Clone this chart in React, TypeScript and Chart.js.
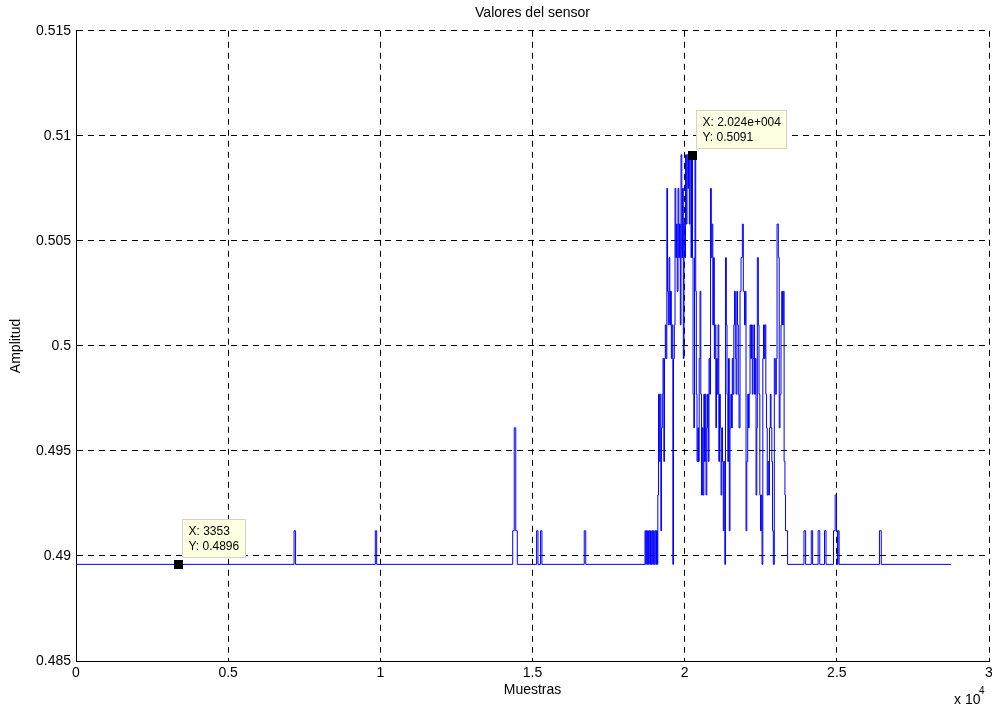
import React, { useEffect, useRef } from 'react';
import { Chart, registerables } from 'chart.js';

Chart.register(...registerables);

const FONT = '"Liberation Sans", Arial, Helvetica, sans-serif';

// Axis ticks (samples on x, amplitude on y)
const xTickValues = [0, 5000, 10000, 15000, 20000, 25000, 30000];
const yTickValues = [0.485, 0.49, 0.495, 0.5, 0.505, 0.51, 0.515];

// Sensor trace as [sample, amplitude] runs: each value holds until the next sample index.
const quietSamples: [number, number][] = [
  [0, 0.4896],
  [7165, 0.4912], [7215, 0.4896],
  [9835, 0.4912], [9880, 0.4896],
  [14350, 0.4912], [14400, 0.4961], [14450, 0.4912], [14500, 0.4896],
  [15135, 0.4912], [15180, 0.4896], [15265, 0.4912], [15310, 0.4896],
  [16700, 0.4912], [16750, 0.4896],
];

const onsetSamples: [number, number][] = [
  [18697, 0.4912], [18720, 0.4896], [18740, 0.4912], [18763, 0.4896],
  [18783, 0.4912], [18809, 0.4896], [18829, 0.4912], [18855, 0.4896],
  [18878, 0.4912], [18901, 0.4896], [18927, 0.4912], [18950, 0.4896],
  [18973, 0.4912], [19000, 0.4896], [19026, 0.4912], [19052, 0.4896],
  [19075, 0.4912], [19102, 0.4896],
];

const burstSamples: [number, number][] = [
  [19118, 0.4929], [19141, 0.4977], [19167, 0.4945], [19190, 0.4977],
  [19217, 0.4912], [19240, 0.4961], [19266, 0.4977], [19289, 0.4994],
  [19315, 0.4945], [19338, 0.4994], [19364, 0.5010], [19387, 0.4994],
  [19414, 0.5075], [19437, 0.5026], [19463, 0.5010], [19486, 0.5042],
  [19512, 0.5010], [19535, 0.5026], [19562, 0.4994], [19585, 0.5010],
  [19611, 0.4896], [19634, 0.4994], [19660, 0.5010], [19683, 0.5075],
  [19709, 0.5042], [19732, 0.5058], [19755, 0.5026], [19782, 0.5075],
  [19808, 0.5042], [19831, 0.5058], [19857, 0.5010], [19880, 0.5091],
  [19907, 0.5042], [19930, 0.5075], [19956, 0.4994], [19979, 0.5058],
  [20005, 0.5042], [20028, 0.5091], [20054, 0.5058], [20077, 0.5091],
  [20104, 0.5075], [20127, 0.5091], [20153, 0.5058], [20176, 0.5091],
  [20209, 0.5042], [20225, 0.5091], [20258, 0.5042], [20275, 0.4977],
  [20301, 0.4961], [20324, 0.5042], [20340, 0.5091], [20363, 0.5026],
  [20383, 0.4977], [20406, 0.4945], [20432, 0.4961], [20455, 0.4945],
  [20478, 0.4994], [20505, 0.5026], [20531, 0.4977], [20554, 0.4929],
  [20580, 0.4961], [20603, 0.4929], [20630, 0.4977], [20653, 0.4945],
  [20679, 0.4977], [20702, 0.4929], [20728, 0.4961], [20751, 0.4977],
  [20777, 0.4945], [20800, 0.4994], [20826, 0.4977], [20850, 0.5075],
  [20876, 0.5042], [20899, 0.5058], [20925, 0.5010], [20948, 0.5042],
  [20975, 0.4994], [20998, 0.5010], [21024, 0.4961], [21047, 0.4994],
  [21073, 0.4977], [21096, 0.5010], [21122, 0.4945], [21145, 0.4977],
  [21172, 0.4961], [21195, 0.4929], [21221, 0.4961], [21244, 0.4945],
  [21270, 0.4912], [21293, 0.4945], [21320, 0.4896], [21343, 0.5042],
  [21369, 0.5010], [21392, 0.4977], [21418, 0.4945], [21441, 0.4994],
  [21467, 0.4912], [21490, 0.4961], [21517, 0.4977], [21540, 0.4961],
  [21566, 0.4994], [21589, 0.4977], [21615, 0.5010], [21638, 0.5026],
  [21665, 0.4994], [21688, 0.4977], [21714, 0.5026], [21737, 0.5010],
  [21763, 0.4977], [21786, 0.4961], [21819, 0.5026], [21852, 0.5042],
  [21895, 0.5058], [21928, 0.5026], [21967, 0.5010], [21993, 0.5026],
  [22016, 0.4912], [22042, 0.4945], [22072, 0.4977], [22098, 0.4961],
  [22121, 0.4977], [22148, 0.5010], [22174, 0.4994], [22197, 0.5010],
  [22223, 0.4977], [22246, 0.4994], [22272, 0.5010], [22295, 0.4977],
  [22322, 0.4994], [22345, 0.4929], [22371, 0.4961], [22388, 0.5042],
  [22421, 0.5010], [22443, 0.4977], [22470, 0.4929], [22493, 0.4912],
  [22519, 0.4929], [22542, 0.4896], [22568, 0.4994], [22591, 0.5010],
  [22618, 0.4994], [22641, 0.5010], [22667, 0.4977], [22690, 0.4961],
  [22713, 0.4929], [22739, 0.4945], [22765, 0.4929], [22788, 0.4961],
  [22815, 0.4977], [22838, 0.4961], [22864, 0.4945], [22887, 0.4912],
  [22913, 0.4896], [22946, 0.4994], [22979, 0.4977], [23012, 0.4994],
  [23035, 0.5058], [23078, 0.5042], [23107, 0.4961], [23133, 0.4977],
  [23166, 0.5010], [23189, 0.5026], [23216, 0.5010], [23242, 0.5026],
  [23268, 0.4945], [23295, 0.4929], [23314, 0.4912], [23382, 0.4896],
];

const tailSamples: [number, number][] = [
  [23920, 0.4912], [23975, 0.4896],
  [24160, 0.4912], [24205, 0.4896],
  [24385, 0.4912], [24440, 0.4896],
  [24595, 0.4912], [24645, 0.4896],
  [24890, 0.4912], [24945, 0.4929], [24990, 0.4912], [25020, 0.4896],
  [25040, 0.4912], [25075, 0.4896],
  [26400, 0.4912], [26460, 0.4896],
  [28750, 0.4896],
];

// Data cursors placed on the trace
const dataTipX = [3353, 20240];
const dataTipY = [0.4896, 0.5091];

function formatTipX(v: number): string {
  if (Math.abs(v) < 10000) return String(v);
  const [mant, exp] = v.toExponential(3).split('e');
  const sign = exp.startsWith('-') ? '-' : '+';
  const digits = exp.replace(/^[+-]/, '').padStart(3, '0');
  return `${mant}e${sign}${digits}`;
}

const overlayPlugin = {
  id: 'sensorOverlay',
  afterDraw(chart: any) {
    const { ctx, chartArea } = chart;
    const xs = chart.scales.x;
    const ys = chart.scales.y;
    ctx.save();

    // axis multiplier below the last x tick
    ctx.fillStyle = '#000';
    ctx.textAlign = 'left';
    ctx.textBaseline = 'middle';
    ctx.font = `14px ${FONT}`;
    ctx.fillText('x 10', chartArea.right - 35, chart.height - 9);
    ctx.font = `10px ${FONT}`;
    ctx.fillText('4', chartArea.right - 10, chart.height - 18);

    // data tips
    dataTipX.forEach((vx, i) => {
      const vy = dataTipY[i];
      const px = xs.getPixelForValue(vx);
      const py = ys.getPixelForValue(vy);
      const lines = [`X: ${formatTipX(vx)}`, `Y: ${vy}`];
      ctx.font = `12px ${FONT}`;
      const w = Math.round(Math.max(...lines.map((t) => ctx.measureText(t).width)) + 12);
      const h = 38;
      const bx = Math.round(px + 4) + 0.5;
      const by = Math.round(py - 45) + 0.5;
      ctx.fillStyle = '#ffffe1';
      ctx.fillRect(bx, by, w, h);
      ctx.strokeStyle = '#d6d3c4';
      ctx.lineWidth = 1;
      ctx.strokeRect(bx, by, w, h);
      ctx.fillStyle = '#000';
      ctx.textBaseline = 'middle';
      lines.forEach((t, k) => ctx.fillText(t, bx + 6, by + 12 + k * 15));
      ctx.fillRect(Math.round(px) - 4, Math.round(py) - 4, 9, 9);
    });

    ctx.restore();
  },
};

export default function App() {
  const canvasRef = useRef<HTMLCanvasElement | null>(null);

  useEffect(() => {
    const canvas = canvasRef.current;
    if (!canvas) return;

    const trace = [...quietSamples, ...onsetSamples, ...burstSamples, ...tailSamples].map(
      ([x, y]) => ({ x, y })
    );

    const chart = new Chart(canvas, {
      type: 'line',
      data: {
        datasets: [
          {
            data: trace,
            borderColor: '#0000ff',
            borderWidth: 1,
            pointRadius: 0,
            fill: false,
            stepped: true,
          },
        ],
      },
      options: {
        animation: false,
        responsive: false,
        devicePixelRatio: 1,
        layout: { padding: { left: 0, right: 0, top: 0, bottom: 0 } },
        font: { family: FONT },
        plugins: {
          legend: { display: false },
          tooltip: { enabled: false },
          title: {
            display: true,
            fullSize: false,
            text: 'Valores del sensor',
            color: '#000',
            font: { family: FONT, size: 14, weight: 'normal' },
            padding: { top: 5, bottom: 9 },
          },
        },
        scales: {
          x: {
            type: 'linear',
            min: 0,
            max: 30000,
            afterBuildTicks: (s: any) => {
              s.ticks = xTickValues.map((value) => ({ value }));
            },
            afterFit: (s: any) => {
              s.height = 48;
              s.paddingLeft = 0;
              s.paddingRight = 3;
            },
            ticks: {
              callback: (v: any) => String(Number(v) / 10000),
              padding: 4,
              color: '#000',
              font: { family: FONT, size: 14 },
              maxRotation: 0,
              autoSkip: false,
            },
            grid: { color: '#000', lineWidth: 1, drawTicks: false },
            border: { display: true, color: '#000', width: 1, dash: [6, 5] },
            title: {
              display: true,
              text: 'Muestras',
              color: '#000',
              font: { family: FONT, size: 14 },
              padding: { top: 0, bottom: 10 },
            },
          },
          y: {
            type: 'linear',
            min: 0.485,
            max: 0.515,
            afterBuildTicks: (s: any) => {
              s.ticks = yTickValues.map((value) => ({ value }));
            },
            afterFit: (s: any) => {
              s.width = 76;
            },
            ticks: {
              callback: (v: any) => String(Number(Number(v).toFixed(3))),
              padding: 5,
              color: '#000',
              font: { family: FONT, size: 14 },
              autoSkip: false,
            },
            grid: { color: '#000', lineWidth: 1, drawTicks: false },
            border: { display: true, color: '#000', width: 1, dash: [6, 5] },
            title: {
              display: true,
              text: 'Amplitud',
              color: '#000',
              font: { family: FONT, size: 14 },
              padding: { top: 8, bottom: 0 },
            },
          },
        },
      },
      plugins: [overlayPlugin],
    } as any);

    return () => chart.destroy();
  }, []);

  return (
    <canvas
      ref={canvasRef}
      width={992}
      height={709}
      style={{ position: 'fixed', left: 0, top: 0, display: 'block' }}
    />
  );
}
